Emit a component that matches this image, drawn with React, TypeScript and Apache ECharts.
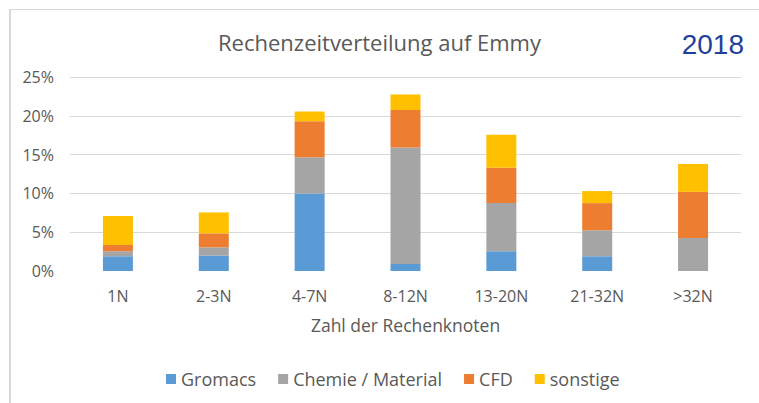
import React, { useEffect, useRef } from "react";
import * as echarts from "echarts";

const categories = ["1N", "2-3N", "4-7N", "8-12N", "13-20N", "21-32N", ">32N"];
const gromacs = [1.9, 2.0, 10.0, 0.9, 2.55, 1.9, 0];
const chemie = [0.65, 1.05, 4.65, 15.0, 6.2, 3.35, 4.25];
const cfd = [0.8, 1.8, 4.65, 4.85, 4.55, 3.5, 5.95];
const sonstige = [3.75, 2.7, 1.25, 2.0, 4.25, 1.55, 3.6];
const seriesNames = ["Gromacs", "Chemie / Material", "CFD", "sonstige"];
const colors = ["#5b9bd5", "#a5a5a5", "#ed7d31", "#ffc000"];

const FONT = "'Open Sans', sans-serif";

export default function App() {
  const ref = useRef<HTMLDivElement>(null);
  useEffect(() => {
    if (!ref.current) return;
    const chart = echarts.init(ref.current, null, { renderer: "svg" });
    const datasets = [gromacs, chemie, cfd, sonstige];
    chart.setOption({
      animation: false,
      backgroundColor: "#ffffff",
      title: {
        text: "Rechenzeitverteilung auf Emmy",
        left: "center",
        top: 26,
        textStyle: { fontFamily: FONT, fontSize: 22, fontWeight: "normal", color: "#595959" },
      },
      graphic: [
        { type: "line", shape: { x1: 9, y1: 9.5, x2: 759, y2: 9.5 }, style: { stroke: "#d9d9d9", lineWidth: 1 } },
        { type: "line", shape: { x1: 10, y1: 9, x2: 10, y2: 403 }, style: { stroke: "#d9d9d9", lineWidth: 2 } },
        {
          type: "text",
          right: 15,
          top: 30,
          style: { text: "2018", fontFamily: "'Liberation Sans', Arial, sans-serif", fontSize: 28, fill: "#1f3f9b" },
        },
      ],
      legend: {
        data: seriesNames,
        left: 161,
        top: 365,
        itemWidth: 10,
        itemHeight: 10,
        itemGap: 22,
        icon: "rect",
        textStyle: { fontFamily: FONT, fontSize: 18, color: "#595959" },
      },
      grid: { left: 70, right: 18, top: 77, bottom: 132 },
      xAxis: {
        type: "category",
        data: categories,
        axisLine: { show: false },
        axisTick: { show: false },
        axisLabel: { fontFamily: FONT, fontSize: 16, color: "#595959", margin: 17 },
        name: "Zahl der Rechenknoten",
        nameLocation: "middle",
        nameGap: 45,
        nameTextStyle: { fontFamily: FONT, fontSize: 17.5, color: "#595959" },
      },
      yAxis: {
        type: "value",
        min: 0,
        max: 25,
        interval: 5,
        axisLine: { show: false },
        axisTick: { show: false },
        axisLabel: { formatter: "{value}%", fontFamily: FONT, fontSize: 16, color: "#595959", margin: 16 },
        splitLine: {
          lineStyle: {
            color: ["rgba(0,0,0,0)", "#d9d9d9", "#d9d9d9", "#d9d9d9", "#d9d9d9", "#d9d9d9"],
            width: 1,
          },
        },
      },
      series: seriesNames.map((name, i) => ({
        name,
        type: "bar",
        stack: "total",
        barWidth: 30,
        data: datasets[i],
        itemStyle: { color: colors[i] },
      })),
    });
    return () => chart.dispose();
  }, []);
  return <div ref={ref} style={{ width: 759, height: 403, position: "absolute", left: 0, top: 0 }} />;
}
